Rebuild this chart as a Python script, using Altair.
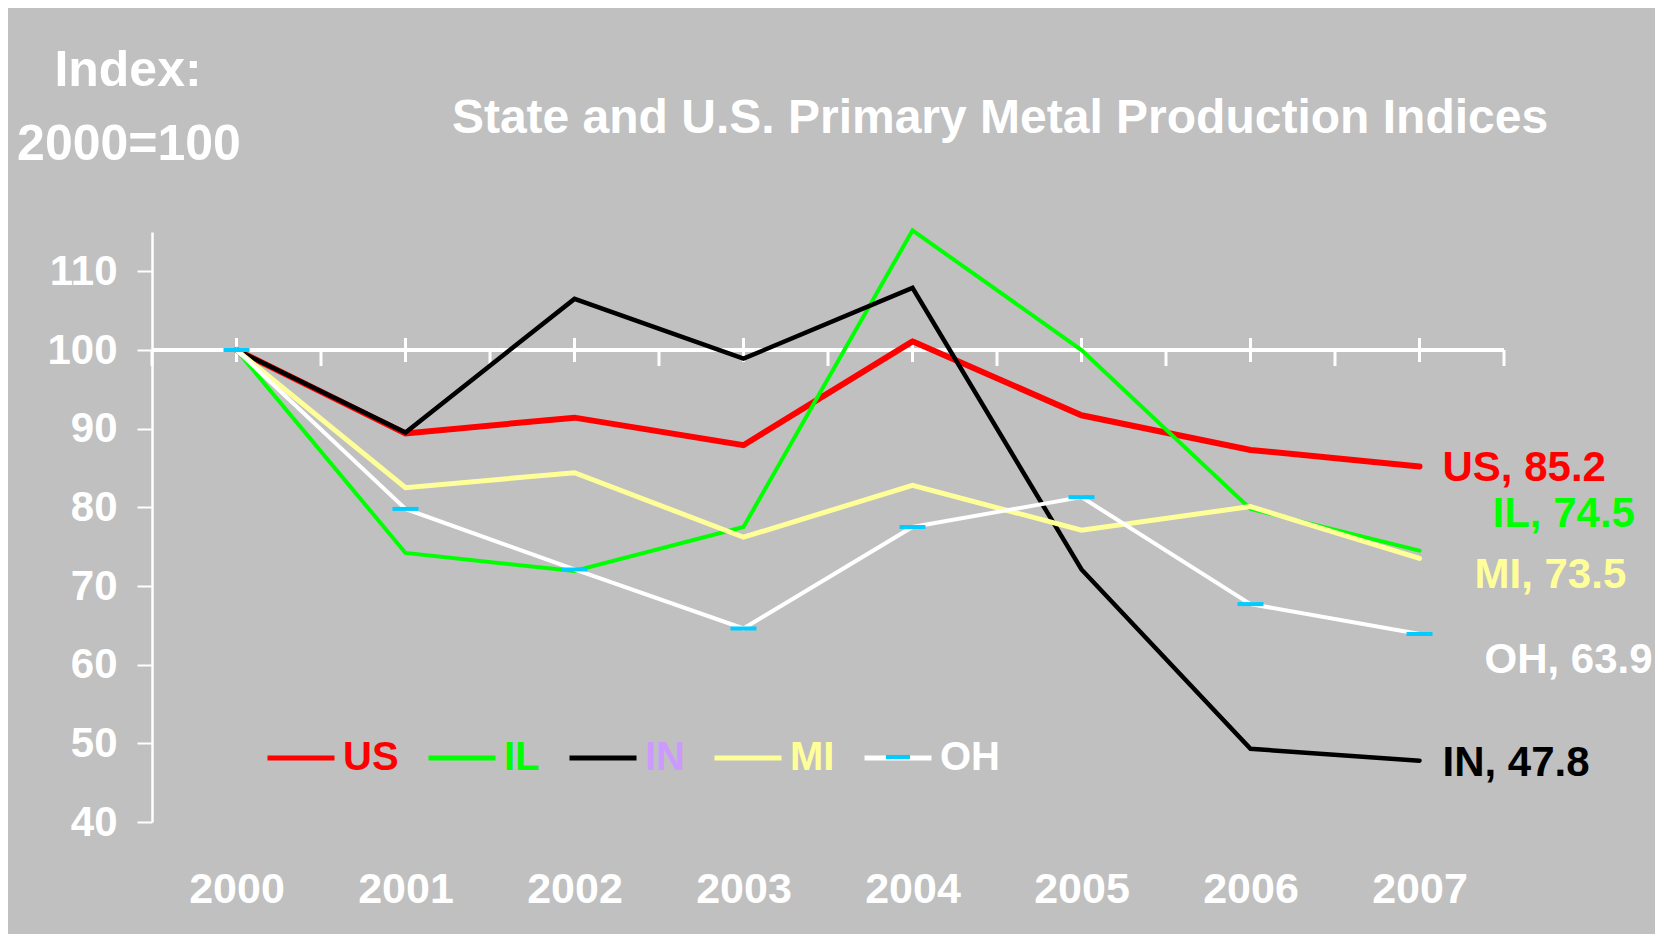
import altair as alt
import pandas as pd

# ---------------- data ----------------
years = [2000, 2001, 2002, 2003, 2004, 2005, 2006, 2007]
series = ["US", "IL", "IN", "MI", "OH"]
us_vals = [100.0, 89.4, 91.4, 87.9, 101.1, 91.7, 87.3, 85.2]
il_vals = [100.0, 74.2, 71.9, 77.5, 115.2, 100.0, 79.8, 74.5]
in_vals = [100.0, 89.5, 106.5, 98.9, 107.9, 72.1, 49.3, 47.8]
mi_vals = [100.0, 82.5, 84.4, 76.2, 82.8, 77.1, 80.1, 73.5]
oh_vals = [100.0, 79.8, 72.1, 64.6, 77.5, 81.3, 67.7, 63.9]
y_tick_values = [40, 50, 60, 70, 80, 90, 100, 110]

line_colors = ["#FF0000", "#00FF00", "#000000", "#FFFF99", "#FFFFFF"]
legend_label_colors = ["#FF0000", "#00FF00", "#CC99FF", "#FFFF99", "#FFFFFF"]
end_label_colors = ["#FF0000", "#00FF00", "#000000", "#FFFF99", "#FFFFFF"]
line_widths = [6, 4, 4.5, 5, 4]
# label offsets (pixels) from the last point
end_label_offsets = {"US": (23, 2), "IL": (73, -37), "IN": (23, 2), "MI": (55, 17), "OH": (65, 26)}

values = {"US": us_vals, "IL": il_vals, "IN": in_vals, "MI": mi_vals, "OH": oh_vals}
df = pd.DataFrame([
    {"series": s, "year": y, "value": v}
    for s in series for y, v in zip(years, values[s])
])

FONT = "Liberation Sans"
BG = "#C0C0C0"
MARKER = "#00CCFF"

x_scale = alt.Scale(domain=[years[0] - 0.5, years[-1] + 0.5], nice=False, zero=False)
y_scale = alt.Scale(domain=[40, 115], nice=False, zero=False)
color_scale = alt.Scale(domain=series, range=line_colors)

x_axis = alt.Axis(values=years, format="d", title=None, domain=False, ticks=False, tickSize=0,
                  grid=False, labelFontSize=43, labelFont=FONT, labelFontWeight="bold",
                  labelColor="white", labelPadding=67, labelBaseline="middle",
                  labelFlush=False, labelOverlap=False)
y_axis = alt.Axis(values=y_tick_values, title=None, grid=False, domainColor="white",
                  domainWidth=2.5, tickColor="white", tickWidth=2, tickSize=15,
                  labelFontSize=42, labelFont=FONT, labelFontWeight="bold",
                  labelColor="white", labelPadding=20, labelOverlap=False, labelFlush=False)

parts = [f"datum.label == '{s}' ? '{c}'" for s, c in zip(series[:-1], legend_label_colors[:-1])]
label_expr = " : ".join(parts) + f" : '{legend_label_colors[-1]}'"

legend = alt.Legend(orient="none", legendX=113, legendY=490, direction="horizontal",
                    title=None, symbolType="stroke", symbolSize=4489, symbolStrokeWidth=5,
                    labelFontSize=40, labelFont=FONT, labelFontWeight="bold",
                    labelColor=alt.ExprRef(expr=label_expr), labelOffset=6,
                    columnPadding=19, padding=0, labelLimit=500)

# second, label-less legend that lays the cyan dash over the OH legend symbol
dash_legend = alt.Legend(orient="none", legendX=734, legendY=513, title=None,
                         symbolType="M-1,-0.17H1V0.17H-1Z", symbolSize=576,
                         symbolStrokeWidth=0, symbolOpacity=1, labelExpr="''",
                         labelFontSize=1, labelOffset=0, padding=0)


def X(field="year"):
    return alt.X(f"{field}:Q", scale=x_scale, axis=x_axis)


def Y(field="value"):
    return alt.Y(f"{field}:Q", scale=y_scale, axis=y_axis)


layers = []

# horizontal line at 100
layers.append(
    alt.Chart(pd.DataFrame({"v": [100]})).mark_rule(color="white", strokeWidth=4)
    .encode(y=Y("v"))
)

# ticks on the 100 line: at category centres
center_df = pd.DataFrame({"year": years, "v": [100] * len(years)})
layers.append(
    alt.Chart(center_df).mark_tick(orient="vertical", color="white", size=24, thickness=3, opacity=1)
    .encode(x=X(), y=Y("v"))
)
# and at category boundaries
boundaries = [y - 0.5 for y in years] + [years[-1] + 0.5]
bound_df = pd.DataFrame({"year": boundaries, "v": [100] * len(boundaries)})
layers.append(
    alt.Chart(bound_df).mark_tick(orient="vertical", color="white", size=16, thickness=3,
                                  opacity=1, yOffset=8)
    .encode(x=X(), y=Y("v"))
)

# series lines
for s, w in zip(series, line_widths):
    layers.append(
        alt.Chart(df[df.series == s]).mark_line(strokeWidth=w, strokeCap="round", strokeJoin="miter")
        .encode(x=X(), y=Y(), color=alt.Color("series:N", scale=color_scale, legend=legend))
    )

# OH dash markers
oh_df = df[df.series == "OH"].copy()
oh_df["marker"] = "OH marker"
layers.append(
    alt.Chart(oh_df).mark_tick(orient="horizontal", size=26, thickness=4, opacity=1)
    .encode(x=X(), y=Y(),
            fill=alt.Fill("marker:N", scale=alt.Scale(domain=["OH marker"], range=[MARKER]),
                          legend=dash_legend))
)

# end labels
for s, c in zip(series, end_label_colors):
    last = df[(df.series == s) & (df.year == years[-1])].copy()
    last["label"] = last.apply(lambda r: f"{r.series}, {r.value:.1f}", axis=1)
    dx, dy = end_label_offsets[s]
    layers.append(
        alt.Chart(last).mark_text(align="left", baseline="middle", font=FONT, fontSize=42,
                                  fontWeight="bold", color=c, dx=dx, dy=dy)
        .encode(x=X(), y=Y(), text="label:N")
    )

one = pd.DataFrame({"k": [0]})

# titles
for txt, px, py, fs in [
    ("State and U.S. Primary Metal Production Indices", 848, -113, 48),
    ("Index:", -24, -161, 50),
    ("2000=100", -23, -87, 50),
]:
    layers.append(
        alt.Chart(one).mark_text(text=txt, align="center", baseline="middle", font=FONT,
                                 fontSize=fs, fontWeight="bold", color="white")
        .encode(x=alt.value(px), y=alt.value(py))
    )

chart = alt.layer(*layers).properties(
    width=1352, height=590,
    padding={"left": 144, "top": 224, "right": 151, "bottom": 112},
    autosize=alt.AutoSizeParams(type="none"),
    background=BG,
).configure_view(stroke=None)

chart.save("out.html", embed_options={"renderer": "svg", "actions": False})
